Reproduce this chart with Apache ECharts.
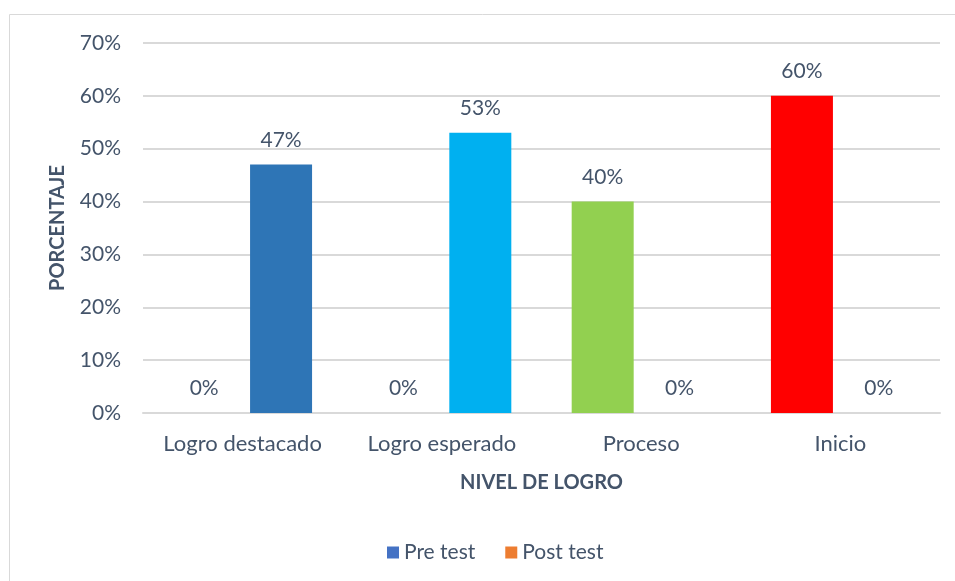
<!DOCTYPE html>
<html>
<head>
<meta charset="utf-8">
<script src="https://cdn.jsdelivr.net/npm/echarts@6/dist/echarts.min.js"></script>
<style>
  html, body { margin: 0; padding: 0; background: #fff; }
  #chart { width: 955px; height: 581px; }
</style>
</head>
<body>
<div id="chart"></div>
<script>
const categories = ["Logro destacado", "Logro esperado", "Proceso", "Inicio"];
const preTest = [0, 0, 40, 60];
const postTest = [47, 53, 0, 0];
const barColors = ["#2E75B6", "#00B0F0", "#92D050", "#FF0000"];
// which series carries the coloured bar in each category
const preColored = [false, false, true, true];

const textColor = "#44546A";
const fontFamily = "Lato, 'Open Sans', sans-serif";

const chart = echarts.init(document.getElementById("chart"));

const makeData = (vals, colored) =>
  vals.map((v, i) => ({
    value: v,
    itemStyle: colored[i] ? { color: barColors[i] } : undefined
  }));

const label = {
  show: true,
  position: "top",
  distance: 14,
  formatter: "{c}%",
  color: textColor,
  fontSize: 21,
  fontFamily
};

chart.setOption({
  animation: false,
  textStyle: { fontFamily },
  graphic: [{
    type: "rect",
    shape: { x: 9.5, y: 14.5, width: 1000, height: 1000 },
    style: { fill: "none", stroke: "#D9D9D9", lineWidth: 1 },
    silent: true
  }],
  grid: { left: 143, right: 15, top: 43, bottom: 168 },
  legend: {
    left: 382,
    top: 537,
    icon: "rect",
    itemWidth: 12,
    itemHeight: 12,
    itemGap: 30,
    textStyle: { color: textColor, fontSize: 21, fontFamily },
    data: ["Pre test", "Post test"]
  },
  xAxis: {
    type: "category",
    data: categories,
    name: "NIVEL DE LOGRO",
    nameLocation: "middle",
    nameGap: 60,
    nameTextStyle: { color: textColor, fontSize: 20, fontWeight: "bold", fontFamily },
    axisLine: { lineStyle: { color: "#D9D9D9", width: 2 } },
    axisTick: { show: false },
    axisLabel: { interval: 0, color: textColor, fontSize: 22, margin: 20, fontFamily }
  },
  yAxis: {
    type: "value",
    min: 0,
    max: 70,
    interval: 10,
    name: "PORCENTAJE",
    nameLocation: "middle",
    nameGap: 75,
    nameTextStyle: { color: textColor, fontSize: 20, fontWeight: "bold", fontFamily },
    axisLine: { show: false },
    axisTick: { show: false },
    axisLabel: { formatter: "{value}%", color: textColor, fontSize: 21, margin: 22, fontFamily },
    splitLine: { lineStyle: { color: "#D9D9D9", width: 2 } }
  },
  series: [
    {
      name: "Pre test",
      type: "bar",
      color: "#4472C4",
      barWidth: 62,
      barGap: "24%",
      data: makeData(preTest, preColored),
      label
    },
    {
      name: "Post test",
      type: "bar",
      color: "#ED7D31",
      barWidth: 62,
      data: makeData(postTest, preColored.map(c => !c)),
      label
    }
  ]
});
</script>
</body>
</html>
